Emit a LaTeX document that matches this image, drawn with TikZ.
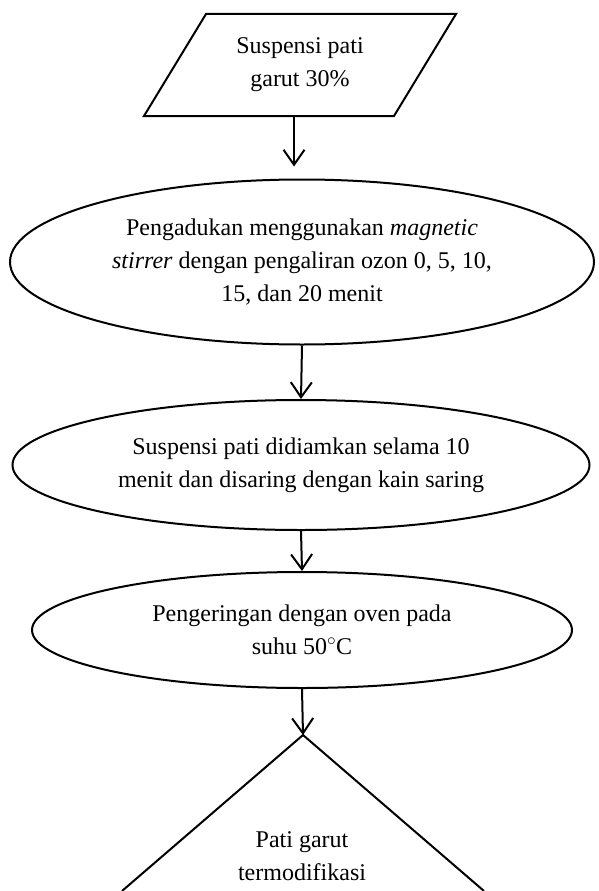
\documentclass[tikz,border=0pt]{standalone}
\usepackage{fontspec}
\setmainfont{Liberation Serif}
\usetikzlibrary{shapes.geometric,arrows.meta}

\begin{document}
\begin{tikzpicture}[x=1pt, y=-1pt, line width=2pt, font=\fontsize{24}{33}\selectfont,
    main/.style = {draw, ellipse, inner sep=0pt, align=center},
    io/.style = {minimum width=248pt, minimum height=100pt, align=center},
    arr/.style = {-{Straight Barb[length=15pt,width=21pt]}}]
    \useasboundingbox (0,0) rectangle (598,891);
    \node[io] (1) at (300,65) {Suspensi pati\\garut 30\%};
    \draw ([xshift=31pt]1.north west) -- ([xshift=31pt]1.north east) -- ([xshift=-31pt]1.south east) -- ([xshift=-31pt]1.south west) -- cycle;
    \node[main, minimum width=584pt, minimum height=165pt] (2) at (302,262) {Pengadukan menggunakan \textit{magnetic}\\\textit{stirrer} dengan pengaliran ozon 0, 5, 10,\\15, dan 20 menit};
    \node[main, minimum width=577pt, minimum height=130pt] (3) at (301,465) {Suspensi pati didiamkan selama 10\\menit dan disaring dengan kain saring};
    \node[main, minimum width=540pt, minimum height=116pt] (4) at (302,630) {Pengeringan dengan oven pada\\suhu 50$^{\circ}$C};
    \coordinate (5) at (303,735);
    \node[align=center] (6) at (302,856) {Pati garut\\termodifikasi};
    \draw (122,891) -- (5) -- (484,891);
    \draw[arr, shorten >=12pt] ([xshift=-6pt]1.south) -- ([xshift=-6pt]1.south |- 2.north);
    \draw[arr] (2.south) -- (3.north);
    \draw[arr] (3.south) -- (4.north);
    \draw[arr] (4.south) -- (5);
\end{tikzpicture}
\end{document}
